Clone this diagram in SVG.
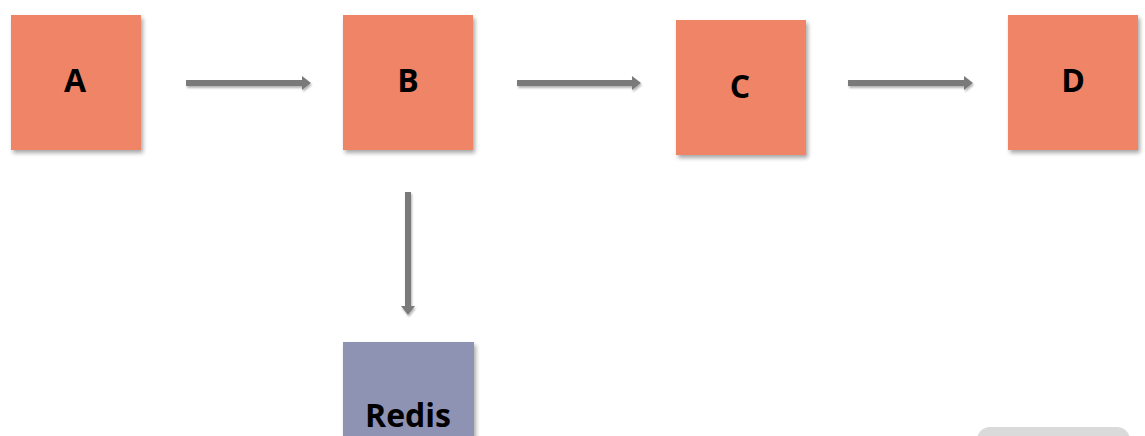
<svg xmlns="http://www.w3.org/2000/svg" width="1145" height="436" viewBox="0 0 1145 436">
  <style>
    .box { fill: #F08466; filter: url(#sh); }
    .redis { fill: #8E92B3; filter: url(#sh); }
    .lbl { font-family: "Open Sans", "Liberation Sans", sans-serif; font-weight: 700; font-size: 32px; fill: #000; text-anchor: middle; }
    .conn { stroke: #7A7A7A; stroke-width: 6; fill: none; marker-end: url(#ah); }
  </style>
  <defs>
    <filter id="sh" x="-10%" y="-10%" width="125%" height="125%">
      <feGaussianBlur in="SourceAlpha" stdDeviation="2"/>
      <feOffset dx="2" dy="3" result="b"/>
      <feComponentTransfer><feFuncA type="linear" slope="0.35"/></feComponentTransfer>
      <feMerge><feMergeNode/><feMergeNode in="SourceGraphic"/></feMerge>
    </filter>
    <filter id="ash" filterUnits="userSpaceOnUse" x="0" y="0" width="1145" height="436">
      <feGaussianBlur in="SourceAlpha" stdDeviation="1.2"/>
      <feOffset dx="1" dy="2" result="b"/>
      <feComponentTransfer><feFuncA type="linear" slope="0.3"/></feComponentTransfer>
      <feMerge><feMergeNode/><feMergeNode in="SourceGraphic"/></feMerge>
    </filter>
    <marker id="ah" markerUnits="userSpaceOnUse" markerWidth="10" markerHeight="14" refX="0" refY="7" orient="auto" viewBox="0 0 10 14">
      <path d="M0,0 L9,7 L0,14 Z" fill="#7A7A7A"/>
    </marker>
  </defs>
  <rect x="977" y="427" width="153" height="30" rx="13" fill="#DADADA"/>
  <g id="connectors" filter="url(#ash)">
    <line class="conn" x1="186" y1="83" x2="302" y2="83"/>
    <line class="conn" x1="517" y1="83" x2="632" y2="83"/>
    <line class="conn" x1="848" y1="83" x2="964" y2="83"/>
    <line class="conn" x1="408" y1="192" x2="408" y2="306"/>
  </g>
  <g id="node-A">
    <rect class="box" x="11" y="15" width="130" height="135"/>
    <text class="lbl" x="75" y="92">A</text>
  </g>
  <g id="node-B">
    <rect class="box" x="343" y="15" width="130" height="135"/>
    <text class="lbl" x="408" y="92">B</text>
  </g>
  <g id="node-C">
    <rect class="box" x="676" y="20" width="130" height="135"/>
    <text class="lbl" x="740" y="98">C</text>
  </g>
  <g id="node-D">
    <rect class="box" x="1008" y="15" width="130" height="135"/>
    <text class="lbl" x="1073" y="92">D</text>
  </g>
  <g id="node-Redis">
    <rect class="redis" x="343" y="342" width="131" height="110"/>
    <text class="lbl" x="408" y="427">Redis</text>
  </g>
</svg>
